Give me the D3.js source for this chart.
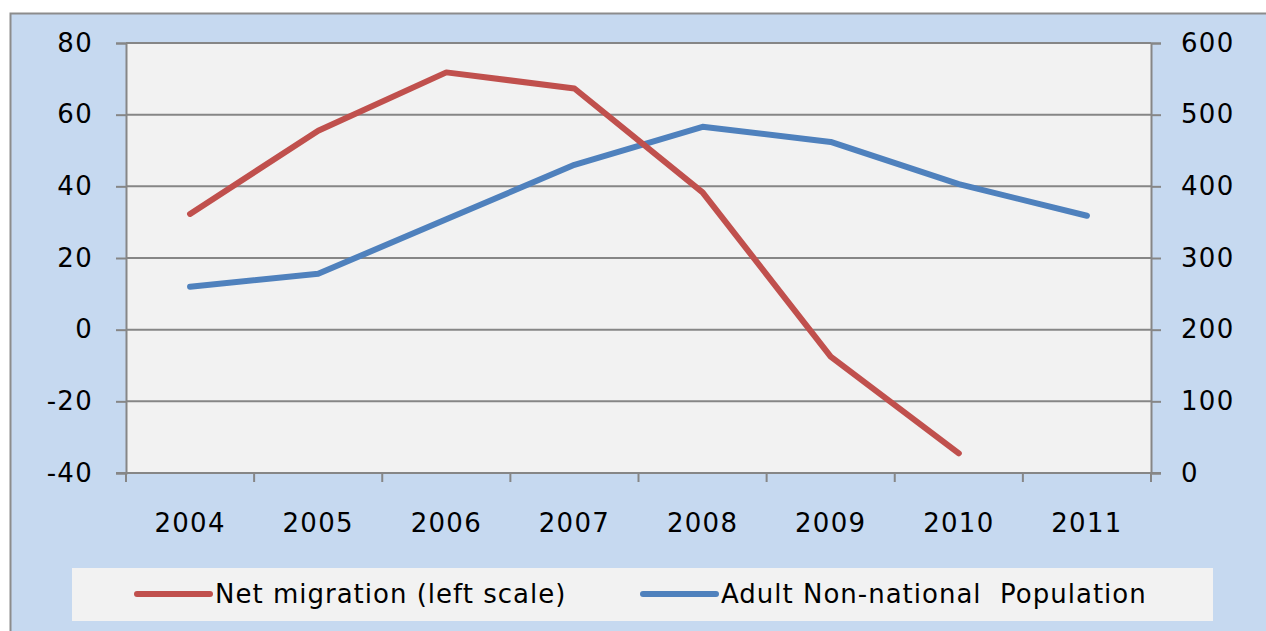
<!DOCTYPE html>
<html>
<head>
<meta charset="utf-8">
<script src="https://cdn.jsdelivr.net/npm/d3@7"></script>
<style>
  body { margin: 0; background: #fff; }
  text { font-family: "DejaVu Sans", Verdana, sans-serif; fill: #000; }
</style>
</head>
<body>
<div id="chart"></div>
<script>
// dati
var years = ["2004", "2005", "2006", "2007", "2008", "2009", "2010", "2011"];
var netMigration = [32.3, 55.5, 71.8, 67.3, 38.3, -7.5, -34.5, null];
var adultPop = [260, 278, 354, 430, 483, 462, 403, 359];
var leftTicks = [-40, -20, 0, 20, 40, 60, 80];
var rightTicks = [0, 100, 200, 300, 400, 500, 600];

var W = 1266, H = 631;
var margin = {top: 43, right: 115, bottom: 158, left: 126},
  width = W - margin.left - margin.right,
  height = H - margin.top - margin.bottom;

var svg = d3.select("#chart").append("svg")
  .attr("width", W)
  .attr("height", H);

// sfondo
svg.append("rect")
  .attr("x", 10.5).attr("y", 13.5)
  .attr("width", W).attr("height", H)
  .attr("fill", "#c6d9f0")
  .attr("stroke", "#8c8c8c")
  .attr("stroke-width", 2);

var g = svg.append("g")
  .attr("transform", "translate(" + margin.left + "," + margin.top + ")");

g.append("rect")
  .attr("width", width).attr("height", height)
  .attr("fill", "#f2f2f2");

var x = d3.scaleBand().domain(years).range([0, width]);
var yL = d3.scaleLinear().domain([-40, 80]).range([height, 0]);
var yR = d3.scaleLinear().domain([0, 600]).range([height, 0]);

// griglia
g.selectAll(".grid")
  .data(leftTicks)
  .enter().append("line")
    .attr("x1", 0).attr("x2", width)
    .attr("y1", function(d) { return yL(d); })
    .attr("y2", function(d) { return yL(d); })
    .attr("stroke", "#868686")
    .attr("stroke-width", 2);

// assi
var fmt = function(d) { return String(d); };
var axL = g.append("g")
  .call(d3.axisLeft(yL).tickValues(leftTicks).tickFormat(fmt).tickSize(10).tickPadding(23));
var axR = g.append("g")
  .attr("transform", "translate(" + width + ",0)")
  .call(d3.axisRight(yR).tickValues(rightTicks).tickFormat(fmt).tickSize(10).tickPadding(20));
var axB = g.append("g")
  .attr("transform", "translate(0," + height + ")")
  .call(d3.axisBottom(x).tickSize(0).tickPadding(41));

// tick tra le categorie
var edges = years.map(function(d) { return x(d); }).concat([width]);
g.selectAll(".xt")
  .data(edges)
  .enter().append("line")
    .attr("x1", function(d) { return d; }).attr("x2", function(d) { return d; })
    .attr("y1", height).attr("y2", height + 9)
    .attr("stroke", "#868686")
    .attr("stroke-width", 2);

[axL, axR, axB].forEach(function(a) {
  a.selectAll("path.domain").attr("stroke", "#868686").attr("stroke-width", 2);
  a.selectAll(".tick line").attr("stroke", "#868686").attr("stroke-width", 2);
  a.selectAll("text")
    .style("font-family", "'DejaVu Sans', Verdana, sans-serif")
    .style("font-size", "26px")
    .style("letter-spacing", "1.3px")
    .attr("fill", "#000");
});
axB.select("path.domain").remove();
g.append("line")
  .attr("x1", -10).attr("x2", width + 10)
  .attr("y1", height).attr("y2", height)
  .attr("stroke", "#868686").attr("stroke-width", 2);

// linee
var lineL = d3.line()
  .defined(function(d) { return d != null; })
  .x(function(d, i) { return x(years[i]) + x.bandwidth() / 2; })
  .y(function(d) { return yL(d); });
var lineR = d3.line()
  .x(function(d, i) { return x(years[i]) + x.bandwidth() / 2; })
  .y(function(d) { return yR(d); });

g.append("path")
  .datum(adultPop)
  .attr("d", lineR)
  .attr("fill", "none")
  .attr("stroke", "#4f81bd")
  .attr("stroke-width", 6)
  .attr("stroke-linecap", "round")
  .attr("stroke-linejoin", "round");

g.append("path")
  .datum(netMigration)
  .attr("d", lineL)
  .attr("fill", "none")
  .attr("stroke", "#c0504d")
  .attr("stroke-width", 6)
  .attr("stroke-linecap", "round")
  .attr("stroke-linejoin", "round");

// legenda
var leg = svg.append("g");
leg.append("rect")
  .attr("x", 72).attr("y", 568)
  .attr("width", 1141).attr("height", 53)
  .attr("fill", "#f2f2f2");

var legItems = [
  {label: "Net migration (left scale)", color: "#c0504d", x: 137},
  {label: "Adult Non-national  Population", color: "#4f81bd", x: 643}
];
legItems.forEach(function(it) {
  leg.append("line")
    .attr("x1", it.x).attr("x2", it.x + 73)
    .attr("y1", 594).attr("y2", 594)
    .attr("stroke", it.color)
    .attr("stroke-width", 6)
    .attr("stroke-linecap", "round");
  leg.append("text")
    .attr("x", it.x + 78).attr("y", 603)
    .style("font-size", "26px")
    .style("letter-spacing", "1px")
    .style("white-space", "pre")
    .text(it.label);
});
</script>
</body>
</html>
